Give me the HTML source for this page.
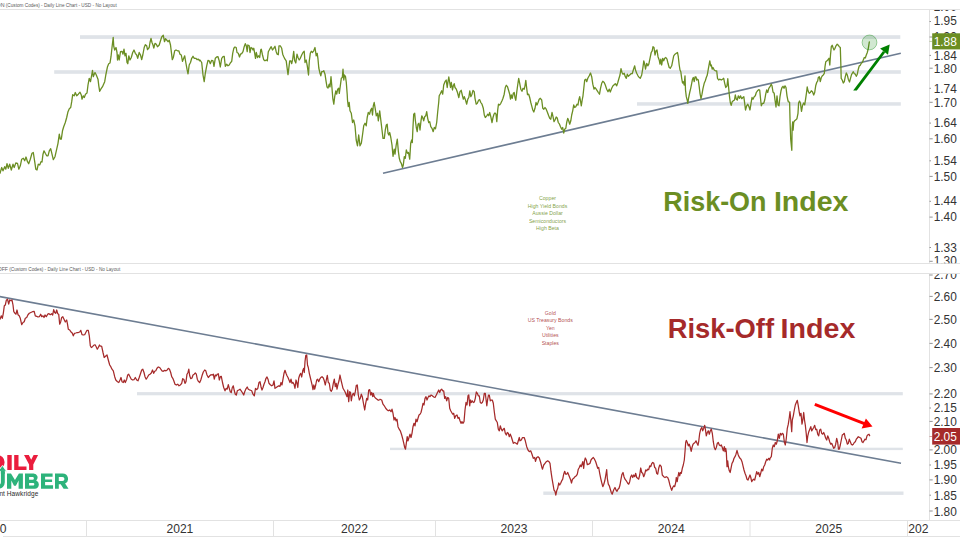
<!DOCTYPE html>
<html><head><meta charset="utf-8"><title>Risk-On / Risk-Off Index</title>
<style>html,body{margin:0;padding:0;background:#fff}body{width:960px;height:540px;overflow:hidden;position:relative;font-family:"Liberation Sans",sans-serif}</style></head>
<body>
<svg width="960" height="540" viewBox="0 0 960 540" style="position:absolute;left:0;top:0;font-family:'Liberation Sans',sans-serif">
<rect width="960" height="540" fill="#fff"/>
<defs><clipPath id="c1"><rect x="929" y="10" width="31" height="253.2"/></clipPath><clipPath id="c2"><rect x="929" y="274" width="31" height="246"/></clipPath><clipPath id="c3"><rect x="0" y="520" width="929.3" height="17"/></clipPath></defs>
<g stroke="#e2e2e2" stroke-width="1" shape-rendering="crispEdges">
<line x1="0" y1="9.5" x2="960" y2="9.5"/>
<line x1="0" y1="263.5" x2="960" y2="263.5"/>
<line x1="0" y1="273.5" x2="960" y2="273.5"/>
<line x1="0" y1="520.5" x2="960" y2="520.5"/>
<line x1="3" y1="536.5" x2="960" y2="536.5"/>
<line x1="929.5" y1="10" x2="929.5" y2="263"/>
<line x1="929.5" y1="274" x2="929.5" y2="520"/>
<line x1="86.5" y1="521" x2="86.5" y2="536"/>
<line x1="273.5" y1="521" x2="273.5" y2="536"/>
<line x1="435.5" y1="521" x2="435.5" y2="536"/>
<line x1="592.5" y1="521" x2="592.5" y2="536"/>
<line x1="907.5" y1="521" x2="907.5" y2="536"/>
</g>
<line x1="750" y1="521" x2="750" y2="536" stroke="#e2e2e2" stroke-width="1"/>
<g font-size="5.3" fill="#5a5a5a">
<text x="4.5" y="7" text-anchor="end">ON</text>
<text x="5.8" y="7" textLength="110.9" lengthAdjust="spacingAndGlyphs">(Custom Codes) - Daily Line Chart - USD - No Layout</text>
<text x="7.9" y="270.5" text-anchor="end" textLength="10.2" lengthAdjust="spacingAndGlyphs">OFF</text>
<text x="9.3" y="270.5" textLength="110.9" lengthAdjust="spacingAndGlyphs">(Custom Codes) - Daily Line Chart - USD - No Layout</text>
</g>
<rect x="80" y="35.2" width="820.3" height="3.6999999999999957" fill="#dfe3e8"/>
<rect x="54.2" y="70.2" width="846.5999999999999" height="3.5999999999999943" fill="#dfe3e8"/>
<rect x="637" y="102.2" width="263.79999999999995" height="3.5" fill="#dfe3e8"/>
<rect x="137" y="392.1" width="765.8" height="3.1999999999999886" fill="#dfe3e8"/>
<rect x="390" y="447.7" width="512.8" height="2.400000000000034" fill="#dfe3e8"/>
<rect x="543.3" y="491.5" width="360.20000000000005" height="3.3999999999999773" fill="#dfe3e8"/>
<line x1="383" y1="173.3" x2="900.8" y2="53.2" stroke="#6d7d92" stroke-width="1.6"/>
<line x1="-1" y1="296.5" x2="901" y2="463.3" stroke="#6d7d92" stroke-width="1.6"/>
<path d="M0,173.3 L1.7,167.5 L3,170.8 L4.7,166.7 L5.8,169.2 L7,163.7 L8.3,168.3 L9.7,164.2 L11.3,170 L13,164.2 L14.2,167.5 L15.8,163 L17.5,163.3 L18.8,169.2 L20.3,165.8 L21.7,159.2 L23.3,158.3 L24.7,160.8 L26,157 L27.5,161.7 L28.7,163.7 L30.3,159.2 L32,153.3 L33.3,152.5 L34.7,161.7 L35.8,169.2 L37,170 L38.3,164.2 L39.7,165 L41,161.7 L42,162 L43,154.2 L44,150.8 L45.3,153.3 L46.7,155.8 L48,155.8 L49.3,150.8 L50.7,148.7 L52,154.2 L53.3,159.7 L55,156.7 L56.7,149.2 L58,143.3 L59.3,134.2 L60.3,139.2 L61.3,139.2 L62.5,130.8 L63.7,126.7 L65.3,122.5 L66.7,117.5 L68,111.7 L69.3,108.7 L70.7,107.5 L71.7,101.7 L72.7,94.7 L74.2,95.8 L75.3,92.5 L76.7,95.8 L78.3,94.2 L80,92.2 L81.3,95 L82,99.2 L83.3,95.8 L84.3,97.5 L85.5,94.2 L87,93 L88,85 L89.2,78.3 L90.5,81.7 L91.7,75 L92.5,70.3 L93.3,76.7 L94.2,74.2 L95,72.5 L96.3,75 L98,79.2 L98.8,85.8 L99.7,91.3 L100.8,89.2 L102.5,86.7 L104.7,81.7 L105.8,75 L107.5,66.7 L108.7,63.7 L110,63 L111,56.7 L112,47.5 L113.2,37.5 L113.8,46.7 L114.7,50 L116,47.5 L117,52.5 L117.5,60 L118.3,55 L119.2,60 L120.5,51.7 L122,51.3 L123,54.2 L124,49.2 L125,55.8 L126,53.3 L127,62.5 L127.8,63.7 L128.8,55.8 L130,60 L131.3,57.5 L132.7,52.5 L134,50 L135.3,53.3 L136.7,55 L137.7,58.3 L139.2,52.5 L140.5,55 L141.7,59.7 L142.8,55 L144.2,47.5 L145.3,44.7 L146.7,45.8 L147.5,49.7 L149.2,47.5 L150,42.5 L151,38.3 L152,42.5 L153,45 L153.8,48 L155,43.3 L156.3,44.2 L157.5,46.7 L159.2,45 L160.5,40.8 L161.7,37 L163.3,35.3 L164.5,41.7 L165.5,38.7 L166.7,40 L168,41.7 L169.3,40.3 L170.5,45 L171.3,51.7 L172.3,59.7 L173.3,57.5 L174.7,50.8 L176,50 L177.5,50.8 L178.8,50.8 L180,54.2 L181.3,55 L182.5,61.3 L183.7,58.3 L184.7,55.8 L185.8,62.5 L187,69.2 L188,73.8 L189.2,65 L190.5,62.5 L191.7,58.3 L193,56.3 L194.3,58.3 L195.8,58.3 L197.2,59.7 L198.3,59.2 L199.7,60.8 L200,60 L201.7,62.5 L203,75 L204.2,81.7 L205.3,73.3 L206.7,65.8 L208,60.3 L209.2,60.8 L210.3,63.7 L211.7,60.3 L213,60.8 L214,66.3 L215.3,58.3 L216.7,57 L218,56.7 L219.2,60.8 L220.3,67 L221.7,58.3 L223,56.7 L224.2,56.3 L225.3,66.3 L226.7,64.2 L228,65.8 L229.2,65 L230.3,63 L231.7,61.3 L232.7,53.3 L233.8,48.3 L235,47 L236.2,47.5 L237,52.5 L238.3,53.3 L239.5,57 L240.5,54.2 L241.7,53.7 L243,51.7 L244.2,46.7 L245.3,43.7 L246.3,45.8 L247.2,51.7 L247.8,45 L249.2,45.8 L250,52.5 L251,47.5 L252.2,48.3 L253,50 L253.8,48.3 L254.7,53.3 L255.5,58.3 L256.3,52.5 L257.5,57.5 L258.7,55.8 L259.7,57.5 L260.7,50 L261.3,49.2 L262.5,55 L263.7,59.7 L265,60.8 L266.3,60 L267.3,60.8 L268.3,51.7 L269.7,49.2 L271.2,46.7 L272.5,50 L273.7,48.3 L275,46.3 L276.2,51.7 L277.2,54.2 L278.3,54.7 L279,45.8 L280.3,45.8 L281.7,48.3 L282.7,54.2 L283.8,56.7 L285,59.2 L286.2,60.8 L287.2,68.7 L288,74.7 L288.8,68.3 L289.7,60.8 L290.8,60.8 L291.7,63.7 L292.7,59.2 L293.7,51.3 L294.7,60.8 L295.8,63 L297,54.2 L298,57.5 L299.2,60 L300.3,58.3 L301.7,55 L303,52.5 L304.2,51.3 L305,62.5 L306.2,60 L307.3,65.8 L308.5,75 L309.3,60.8 L310.3,53.3 L311.3,51.3 L312.5,52.5 L313.7,50.8 L315,47.5 L316.2,55.8 L317.2,53.3 L318,59.2 L318.8,68 L320,73.3 L320.8,75.8 L321.7,71.7 L322.8,71.7 L323.8,70.8 L325,74.2 L326,80.8 L327,87 L328,88 L329.2,84.2 L330,87 L331,76.7 L332,88.3 L332.8,98.3 L333.8,104.2 L334.7,96.7 L335.8,90.8 L336.7,94.2 L337.7,89.2 L338.7,88.3 L339.3,93.3 L340.3,85.8 L341.3,78.3 L342.3,77.5 L343,69.2 L343.8,80 L344.5,75 L345.5,76.7 L346.3,82.5 L347.2,94.2 L347.5,100 L348.3,106.7 L349.2,102.5 L350,110.8 L351.3,113.3 L352.5,122.5 L353.7,120 L355,125.8 L356.2,140 L357.5,145.8 L358.7,135 L360,145.8 L361.3,143.3 L362.5,135 L363.7,125.8 L365,123.3 L366.2,125.8 L367.2,117.5 L368.3,112.5 L369.5,114.2 L370.7,110 L371.7,108.3 L372.5,115 L373.3,105.8 L374.2,102.5 L375.3,109.2 L376.3,115.8 L377.5,113.3 L378.3,120.8 L379.7,110.8 L380.8,120 L382,130 L383,138.3 L384.3,138.3 L385.3,130 L386.3,125 L387.2,124.2 L388,133.3 L388.8,135 L389.7,132.5 L390.8,137.5 L392,145 L393,156.3 L394.2,149.2 L395,154.2 L396.2,145 L397.3,139.2 L398.3,150.8 L399.3,158.3 L400.3,161.7 L401.3,163.3 L402.5,167.5 L403.3,165 L404.3,156.7 L405.3,158.3 L406.3,150 L407.5,153.3 L408.5,152.5 L409.7,159.2 L410.7,143.3 L411.7,140 L412.3,142.5 L413,126.7 L413.7,114.2 L414.7,113.3 L415.3,120 L416.3,127.5 L417.2,131.7 L418,124.2 L419,123.3 L420,130 L421,120.8 L421.8,115.8 L422.7,117.5 L423.7,120.8 L424.7,116.7 L425.7,115.8 L426.7,111.7 L427.7,118.3 L428.7,122.5 L429.7,121.7 L430.8,126.7 L432,128.3 L433.2,131.7 L434.3,127.5 L435.5,128.7 L436.7,122.5 L437.7,111.7 L438.7,102.5 L439.2,95.8 L440.3,93.7 L441.7,90.8 L442.7,94.2 L443.7,85 L445,81.7 L446.2,80 L447.2,87.5 L448,81.7 L448.8,77 L449.7,82.5 L450.5,87.5 L451.3,82.5 L452.5,90 L453.3,85.8 L454.2,83.7 L455,87.5 L456.3,89.2 L457.5,92.5 L458.8,97.5 L460,91.7 L461.2,90.3 L462.3,95 L463.3,99.2 L464.3,96.7 L465.5,100 L466.7,104.2 L467.8,99.2 L468.8,97.5 L469.8,90.8 L470.8,96.7 L472,94.2 L473,90.3 L474.2,91.7 L475,98.3 L476.2,104.2 L477.3,103.3 L478.7,100 L479.7,99.7 L480.8,102.5 L482,104.2 L483.3,108.3 L484.3,115 L485.3,117.5 L486.7,115.8 L487.8,114.2 L488.7,115.8 L489.7,112.5 L490.8,116.7 L492,122.5 L493,117.5 L494,114.2 L495,113 L496,114.2 L496.8,121.7 L497.7,110 L498.5,104.2 L499.7,105 L500.8,103.3 L502,100.8 L503,98.3 L504.2,94.2 L505.3,87.5 L506.3,85.3 L507.5,86.7 L508.7,90.8 L509.7,94.2 L510.5,99.2 L511.3,95 L512.2,98.3 L513.3,93.3 L514.2,92.5 L515,97.5 L515.8,100.3 L516.7,92.5 L517.7,85 L518.7,78.3 L519.7,83.3 L520.8,89.2 L522,91.3 L523,88.3 L524.2,89.2 L525,85.8 L525.8,80.3 L526.7,88.3 L527.5,94.7 L528.7,94.2 L529.7,97.5 L530.8,102.5 L531.7,105.8 L532.8,110 L533.8,112 L535,108.3 L536,102.5 L537,105 L538,102.5 L539.2,99.2 L540.3,98.3 L541.7,100 L542.8,108.3 L543.8,109.2 L545,107.5 L546.2,109.2 L547.5,112.5 L548.7,115.8 L549.7,118.3 L550.8,119.2 L552,112.5 L553,116.7 L554,121.7 L555,120 L556.2,117 L557.2,118 L558.3,122.5 L559.5,124.2 L560.5,126.7 L561.7,129.2 L562.7,127.5 L563.7,133 L564.7,129.2 L565.8,128.3 L566.7,122.5 L567.7,118.3 L568.7,120.8 L569.7,124.2 L570.8,120.8 L571.7,115 L572.7,110.8 L573.7,105 L574.7,107.5 L575.8,106.7 L577,104.2 L578,105 L578.8,100 L579.7,96.7 L580.5,100.8 L581.3,105.8 L582.2,100 L583,95.8 L583.8,88.3 L584.7,80 L585.8,79.2 L586.7,81.7 L587.8,78.3 L589.2,75.8 L590.5,73 L591.7,76.7 L592.8,84.2 L594,89.2 L595,87.5 L596.2,89.2 L597.3,90.8 L598.3,92.5 L599.5,94.2 L600.5,88.3 L601.7,83.3 L602.8,81.3 L604.2,82.5 L605.3,85 L606.7,89.2 L608,91.7 L609.2,89.2 L610.3,92 L611.7,88.3 L613,85.8 L614.2,84.7 L615.3,83.7 L616.7,85.8 L617.8,82.5 L619,78.3 L620,75 L621,68.7 L622,72.5 L623,74.2 L624.2,73.3 L625.3,76.7 L626.3,78.3 L627.3,74.2 L628.3,76.3 L629.7,75 L631,73.7 L632.2,73.7 L633.3,70 L634.7,65.8 L635.5,70 L636.7,73.3 L638,75.8 L639.2,77.5 L640.3,78.3 L641.7,75 L642.8,68.3 L643.8,60.8 L644.7,64.2 L645.5,69.2 L646.7,63.3 L647.8,65.8 L648.8,64.2 L650,58.3 L651.2,52.5 L652.2,50.8 L653,46.7 L654,47.5 L655,55 L656,50.8 L657,50 L658,56.7 L659.2,60 L660,64.2 L660.8,59.2 L661.7,65 L662.7,58.3 L663.7,60.8 L664.7,58.3 L665.8,57.5 L667,59.2 L668,63.3 L669.2,67.5 L670.3,68.3 L671.7,65.8 L672.7,60.8 L673.7,55.8 L675,54.2 L676.3,53.3 L677.5,52.5 L678.3,56.7 L679.2,65 L680,70 L680.8,71.7 L681.7,78.3 L682.5,83 L683.3,81.7 L684.2,85 L685,75.8 L685.5,90 L686.3,96.7 L687.2,100 L687.8,103.3 L688.7,97.5 L689.7,92.5 L690.7,88.3 L691.7,83.3 L692.5,79.2 L693.3,77.5 L694.2,81.7 L695,77 L696,77 L696.7,80 L697.5,79.2 L698.3,80 L699.2,86.7 L700,93.3 L701,98.7 L702,94.2 L703,88.3 L704.2,83.3 L705.3,80.8 L706.3,77.5 L707.3,75 L708.3,69.2 L709.2,64.2 L709.8,60.8 L710.7,65.8 L711.3,65 L712.2,69.2 L713,67.5 L714.2,70 L715.3,70.8 L716.7,70.8 L717.5,78.3 L718.7,80 L719.7,79.2 L721.3,80 L722.5,79.2 L723.7,78.3 L724.7,83.3 L725.8,87.5 L727,85.8 L727.8,78.7 L728.7,88.3 L729.5,96.7 L730.3,102.5 L731.2,105.3 L732.2,101.7 L733.3,100.8 L734.5,100 L735.3,95 L736.3,99.2 L737.3,100 L738.3,95.8 L739.5,98.3 L740.5,95.8 L741.7,98.7 L742.8,97.5 L743.8,96.7 L744.7,103.3 L745.5,110 L746.7,105.8 L747.8,104.2 L749,106.7 L750,110 L751,103.3 L752,97.5 L753,99.2 L754.2,96.7 L755.3,95.8 L756.3,92.5 L757.5,90.8 L758.7,89.7 L759.7,90 L760.5,98.3 L761.3,105.8 L762.5,103.3 L763.7,103.3 L764.7,100 L765.7,94.2 L766.7,90 L767.7,92.5 L768.8,88.3 L770,86.7 L771.2,84.2 L772,85.8 L773,92 L774.2,93.3 L775,100 L776,107 L777,95.8 L778,105 L779,105.8 L780,96.7 L781,90.8 L782,87.5 L783,86.3 L784,88.3 L785,85.8 L786,87.5 L787,95.8 L788,100.8 L788.3,101.7 L789.6,102.3 L790.1,122.4 L790.7,139.3 L791.8,150.3 L792.1,128.9 L792.7,121.8 L793.1,130.2 L793.7,122.4 L794.4,121.1 L795.6,120.1 L796.9,118.8 L798,113.3 L798.6,103 L799.5,101 L800.4,103 L801.5,111.4 L802.5,105.6 L803.7,103 L804.7,104.9 L805.6,99.1 L806.7,91.3 L807.2,87 L808,90.8 L809.2,93.3 L810.3,92.5 L811.3,90.8 L812.5,91.7 L813.7,95 L814.7,92.5 L815.7,85.8 L816.7,82.5 L817.7,80.8 L818.3,77.5 L819.3,76.7 L820.3,81.7 L821.3,77.5 L822.3,75.8 L823.3,75 L824.3,73.3 L825,66.7 L825.8,61.7 L827,60.8 L828,59.7 L829,58.3 L829.8,65 L830.5,55 L831.3,46.7 L832.2,45.3 L833,47.5 L834,50 L835,48.3 L836,45.8 L837.2,44.2 L838.3,45.3 L839.3,46.7 L840.3,47.5 L840.8,63.3 L841.2,78.3 L842.2,80 L843.3,83 L844.3,81.7 L845.3,76.7 L846.3,73 L847.3,75 L848.3,79.2 L849.5,82 L850.5,78.3 L851.5,74.7 L852.5,73 L853.3,71.7 L854.3,73.7 L855.3,74.2 L856.3,76.3 L857.3,74.2 L858.3,69.2 L859.3,65.8 L860.3,65.3 L861.3,63.3 L862.3,62.5 L863.3,60 L864.3,57.5 L865.3,58 L866.3,55 L867.3,52.5 L868.3,48.3 L869.3,42" fill="none" stroke="#6b8e23" stroke-width="1.3" stroke-linejoin="round" stroke-linecap="round"/>
<path d="M0,319.2 L1.3,315.8 L2.3,318.3 L3.3,313.3 L4.3,305.8 L5.3,305 L6.3,300.3 L7.5,299.2 L8.7,304.2 L9.7,300 L11,300.8 L12,300 L13,305 L13.8,311.7 L15,313.3 L16,314.2 L17,310 L18,314.7 L19.2,315.8 L20.3,318.3 L21.7,324.7 L23,322.5 L24.2,321.7 L25.3,318.3 L26.7,317.5 L28,314.7 L29.3,313.3 L30.8,312.5 L32.5,311.7 L34.2,311.3 L35.3,315.8 L36.7,316.3 L38,317 L39.3,316.7 L40.7,314.2 L41.7,316.7 L43,315.8 L44,317.5 L45,315 L46.3,316.7 L47.7,314.2 L49,313.7 L50.3,314.7 L51.7,313.7 L52.7,315 L53.7,309.7 L54.7,312.5 L55.7,313.3 L56.7,310 L57.7,313.7 L58.7,314.2 L59.7,324.2 L60.7,321.7 L61.7,317.5 L62.8,316.7 L64,319.2 L65.3,322 L66.7,320 L67.5,324.2 L68.3,329.2 L69.7,330 L70.8,331.7 L72.2,333 L73.3,335.8 L74.5,333.3 L75.8,333 L77.2,332.5 L78.3,332.5 L79.7,332 L80.8,330.3 L82,334.7 L83.3,335 L84.7,334.7 L85.8,332.5 L87,330.3 L88.3,330.3 L89.3,335.8 L90.3,345.8 L91.3,347.5 L92.5,346.7 L93.7,345.3 L95,344.7 L96.2,346.7 L97.3,349.2 L98.3,347.5 L99.5,345 L100,345.8 L101.7,346.3 L103,352.5 L104.2,357.5 L105.5,356.3 L107,355 L108.3,360 L109.7,365 L110.8,366.7 L112,369.2 L113.3,370.8 L114.7,376.7 L115.8,380 L117.5,381.7 L118.8,382.5 L120,380 L121,377.5 L122,381.7 L123.3,382.5 L124.3,380 L125.3,382.5 L126.7,379.2 L127.7,375 L128.7,374.2 L130,376.7 L131.3,379.2 L132.7,380 L134,379.7 L135.3,377.5 L136.7,380 L138,380.8 L139.2,377.5 L140.3,374.2 L141.7,370 L142.8,369.2 L144,372.5 L145,376.7 L146.2,379.2 L147.3,377.5 L148.7,375 L150,374.2 L151.3,373 L152.5,370 L153.7,373.3 L154.7,371.3 L155.8,370.8 L157,368.3 L158.3,367 L159.7,367.5 L160.8,369.2 L162,370.8 L163.3,371.3 L164.7,370.3 L166,370.8 L167.2,370 L168.3,368.3 L169.5,369.2 L170.7,372.5 L171.7,376.7 L172.8,378.3 L173.8,380.8 L175,384.2 L176.3,385 L177.7,384.2 L179,385.8 L180.3,385 L181.7,383.3 L182.7,378.7 L183.8,379.2 L185,383.3 L186,381.7 L187,374.2 L188,372.5 L188.8,369.2 L189.7,375.8 L190.8,378.7 L192,378 L193,375 L194.2,374.2 L195.3,373 L196.3,374.2 L197.3,379.2 L198.3,381.3 L199.7,382.5 L200.8,380 L202,375.8 L203.3,372 L204.7,370 L205.8,370.8 L207,375 L208.3,377.5 L209.7,375.8 L211,374.7 L212.3,375 L213.3,374.2 L214.3,379.2 L215.3,375 L216.3,375.8 L217.3,374.2 L218.3,373.7 L219.3,380 L220.3,376.7 L221.3,376.3 L222.5,382.5 L223.7,387.5 L225,390.8 L226.2,388.3 L227.2,389.2 L228.3,384.7 L229.3,388.3 L230.3,391.7 L231.3,392.5 L232.3,387.5 L233.3,385.8 L234.3,390.8 L235.3,394.2 L236.3,395 L237.3,390.8 L238.7,390 L240,389.2 L241.2,390.8 L242.3,392.5 L243.7,395 L244.7,391.7 L245.8,389.2 L247.2,387 L248.3,389.2 L249.7,390 L250,390 L251.7,390.8 L253,394.2 L254.3,395.8 L255.5,388.3 L256.7,389.7 L257.8,388.3 L259,382.5 L260,381.7 L261,386.7 L262,390 L263,387.5 L264,384.2 L265,381.7 L266,378.3 L267,377 L268,379.2 L269,383.3 L270.3,384.7 L271.7,385.8 L273,385 L274,380.8 L275,388.3 L276.2,387.5 L277.3,386.7 L278.7,385.8 L280,386.3 L281,382.5 L282,385 L283,379.2 L284,373.3 L285,370.3 L286,373.3 L287,375.8 L288,377.5 L289,380 L290,382.5 L291,379.2 L292,383.3 L293,382.5 L294,384.2 L295,388.3 L296,380 L297,383.3 L297.8,387.5 L298.7,378.3 L299.7,375 L300.7,373.3 L301.7,377 L302.7,370.8 L303.7,368.3 L304.3,372.5 L305,361.7 L305.8,355.3 L306.7,355 L307.5,365 L308.3,367.5 L309.3,373.3 L310.3,377.5 L311.3,381.7 L312.3,385.8 L313,389.7 L313.8,385 L314.7,389.2 L315.7,385 L316.7,380 L317.7,379.2 L318.7,381.7 L319.7,379.2 L320.8,377.5 L322,376.7 L323.3,378 L324.3,380.8 L325.3,385 L326.3,380 L327.3,375.3 L328.3,382.5 L329.3,383.3 L330.3,390 L331.3,391.3 L332.3,389.2 L333.3,383.3 L334.3,379.2 L335.3,386.7 L336.2,383.3 L337,389.2 L338,384.2 L339,380.8 L340,375 L341,380 L342,384.2 L343,388.3 L344,390 L345,391.7 L346,394.2 L347,396.7 L347.8,390 L348.7,401.7 L349.7,391.7 L350.5,392.5 L351.3,400.8 L352.3,395 L353.3,393.3 L354.3,395.8 L355.3,391.7 L356.3,385.3 L357.3,385 L358.3,395 L359.3,400 L360.3,398.3 L361.3,394.2 L362.3,396.7 L363.3,402.5 L364.7,410 L365.7,403.3 L366.7,398.3 L367.7,400 L368.7,390 L369.7,389.7 L370.7,395 L371.7,392.5 L372.7,396.7 L373.3,393.3 L374.3,396.7 L375.7,398.3 L377,399.2 L378.3,400.3 L379.7,399.7 L380,399.2 L381.7,400 L383,404.2 L384.3,405.8 L385.7,408.3 L387,409.7 L388.3,410.8 L389.7,410 L391,411.7 L392,409.2 L393,413.3 L394,420 L395,417.5 L396,420.8 L397,419.2 L398,426.7 L399.2,429.2 L400.3,430.8 L401.7,435 L402.8,439.2 L403.8,443.3 L404.7,447.5 L405.5,449.2 L406.3,443.3 L407.2,436.7 L408,440.8 L409,437.5 L410,434.2 L411,437.5 L412,433.3 L413,426.7 L414,423.3 L415,425.8 L416,419.2 L417,421.7 L418,418.3 L419,415 L420,414.2 L421,412.5 L422,408.3 L423,403.3 L424,405 L425,398.3 L426,396.7 L427,400 L428,397.5 L429,395.8 L430,396.7 L431,395 L432.3,395.8 L433.7,397 L435,397.5 L436.3,395 L437.5,392.5 L438.7,390 L439.7,392.5 L440.7,390 L441.7,389.2 L442.7,390.8 L443.7,390.8 L444.7,398.3 L445.7,396.7 L446.7,400.8 L447.7,397.5 L448.7,398.3 L449.7,408.3 L450.7,410.8 L451.7,412.5 L452.7,414.2 L453.7,413.3 L454.7,418.3 L455.8,415.8 L457,415 L458,418.3 L459,417.5 L460,420.8 L461,423.3 L462,421.7 L463,423.3 L464,421.7 L465,410 L466,402.5 L467,405 L468,395.8 L468.8,395 L469.7,405.8 L470.5,400 L471.3,402.5 L472.3,400.8 L473.3,402.5 L474.3,402 L475.3,398.3 L476.3,392 L477.3,393.3 L478.3,395.8 L479.3,395.8 L480.3,402.5 L481.3,403.3 L482.3,402.5 L483.3,400 L484.3,393.3 L485.3,393.3 L486.2,400.8 L486.8,405.8 L487.7,399.2 L488.5,395 L489.3,395 L490.3,400.8 L491.3,400 L492.3,400 L493.3,403.3 L494.3,411.7 L495.3,419.2 L496.3,420.8 L497.3,422.5 L498.3,429.2 L499.3,430.8 L500.3,425.8 L501.3,429.2 L502.3,430.8 L503.3,429.2 L504.3,428.3 L505.3,433.3 L506.3,435 L507.3,432.5 L508.3,433.3 L509.3,436.7 L510.3,434.2 L511.3,436.7 L512.3,440 L513.3,443.3 L514.7,442.5 L516,443.3 L517.3,444.2 L518.3,440.8 L519.3,437.5 L520,440.8 L521.3,440 L522.5,437.5 L524.2,437.5 L525.3,440.8 L526.7,446.7 L528,450 L529.3,451.7 L530.7,450.8 L532,454.2 L533.3,458.3 L534.7,457.5 L535.5,461.3 L536.7,457.5 L538,456.7 L539.3,458 L540.7,462.5 L541.7,466.7 L542.5,469.2 L543.7,465 L545,463.3 L546.3,461.7 L547.7,460.8 L549,461.7 L550,463.3 L551,471.7 L552,478.3 L553,484.2 L554,490 L555,491.3 L555.8,495 L556.7,490.8 L557.7,488.3 L558.7,483 L559.7,485 L560.7,483.3 L561.7,480.8 L562.7,479.2 L563.7,474.2 L564.7,471.3 L565.7,474.2 L566.7,474.2 L567.7,472.5 L568.7,475 L569.7,477.5 L570.7,480 L571.5,483 L572.5,479.2 L573.7,478.3 L575,476.7 L576.3,475.8 L577.3,474.2 L578.3,469.2 L579.3,467.5 L580.3,465 L581.2,466.7 L582,464.2 L582.8,461.7 L583.7,468.3 L584.5,460.8 L585.3,458 L586.3,460 L587.3,464.7 L588.7,464.2 L590,463.3 L591,460 L592,458.7 L593.3,457.5 L594.5,459.2 L595.7,461.7 L596.7,465 L597.7,468.3 L598.7,467.5 L599.7,473.3 L600.7,478.3 L601.7,482.5 L602.8,486.7 L603.8,484.2 L604.8,480.8 L605.8,475 L606.7,469.7 L607.3,478.3 L608.3,484.2 L609.3,485.8 L610.3,489.2 L611.3,492.5 L612.2,494.2 L613,491.7 L614,489.2 L615,487.5 L616,490 L617,491.3 L618,489.2 L619,488.3 L620,485 L621,479.2 L622,474.2 L623,472.5 L624,476.7 L625,479.2 L626.3,480.8 L627.7,483.3 L628.7,484.2 L629.7,481.7 L630.7,476.7 L631.7,475 L632.7,477.5 L633.7,475 L634.7,476.7 L635.7,473.3 L636.7,477.5 L637.7,478.3 L638.7,479.2 L639.7,475 L640.7,468 L641.7,472.5 L642.7,473.3 L643.7,476.7 L644.7,474.2 L645.7,470 L646.7,470.8 L647.7,469.2 L648.7,469.7 L649.7,465.8 L650.7,466.7 L651.7,463.7 L652.7,462.5 L653.7,463 L654.7,467.5 L655.7,468.3 L656.7,473.3 L657.7,474.2 L658.7,468.3 L659.7,465 L660,465 L661.3,466.7 L662.3,475 L663.7,476.7 L665,477.5 L666.3,476.7 L667.7,477.5 L668.7,480 L669.7,484.2 L670.7,487.5 L671.7,490.3 L672.7,487.5 L673.7,485.8 L674.7,486.7 L675.7,482.5 L676.3,477.5 L677.2,481.7 L678,476.7 L678.8,472.5 L679.7,475.8 L680.5,472.5 L681.3,473.3 L682.3,468.3 L683.3,465 L684.3,460 L685,451.7 L685.7,442.5 L686.3,440.3 L687.3,442.5 L688.3,445.8 L689.3,444.2 L690.3,447.5 L691.2,451.3 L692,447.5 L693,444.2 L694,443.3 L695,442.5 L696,440.8 L697,443.3 L698,445.3 L698.8,440.8 L699.7,433.3 L700.7,429.2 L701.7,427.5 L702.7,430.8 L703.7,428.3 L704.7,425.3 L705.5,430 L706.3,435.8 L707.3,432.5 L708.3,430.8 L709.3,434.2 L710.3,430.8 L711.3,429.2 L712.3,433.3 L713.3,441.7 L714.3,447.5 L715.3,449.7 L716.3,447.5 L717.3,443.3 L718.3,442.5 L719.3,445 L720.3,445.8 L721.3,445 L722.3,447.5 L723.3,450.8 L724.3,446.7 L725,451.7 L725.7,448.3 L726.3,451.7 L727,466.7 L727.7,460.8 L728.3,466.7 L729.3,470.8 L730.2,472.5 L731,468.3 L732,463.3 L733,461.7 L734,458.3 L735,456.7 L736,454.2 L737,450.3 L738,454.2 L739,456.7 L740,458.3 L741,459.2 L742,461.7 L743,465.8 L744,470 L745,473.3 L746,475.8 L747,479.2 L748,480 L749,477.5 L750,475 L750.8,477.5 L751.7,481.7 L752.7,480 L753.7,479.2 L754.7,480 L755.7,475.8 L756.7,471.7 L757.7,474.2 L758.7,472.5 L759.7,476.7 L760.7,473.3 L761.7,469.2 L762.7,470.8 L763.7,466.7 L764.7,465 L765.7,461.7 L766.7,459.2 L767.7,460 L768.7,458.3 L769.7,460 L770,458.3 L771.3,456.7 L772.3,448.3 L773.3,445 L774.3,446.7 L775.3,442.5 L776.3,444.2 L777.3,440.8 L778.3,434.2 L779.3,438.3 L780.3,433.3 L781.3,435 L782.3,433.3 L783.3,434.2 L784.3,441.7 L785.3,445 L786.3,438.3 L787.3,428.3 L788.3,424.2 L789.3,417.5 L790,411.7 L790.8,420 L791.7,431.7 L792.3,420 L793.3,415.8 L794.3,410 L795.3,405 L796.3,402.5 L797.3,400.3 L798.3,405.8 L799.3,412.5 L800,415.8 L801,413.3 L802,424.2 L802.8,420 L803.7,412.5 L804.5,420 L805.3,425 L806.2,433.3 L807,442.5 L807.8,435.8 L808.8,431.7 L809.8,429.2 L810.8,426.7 L811.7,430.8 L812.7,429.2 L813.7,427.5 L814.7,425.3 L815.7,429.7 L816.7,429.2 L817.7,434.2 L818.7,435.8 L819.7,430 L820.7,429.2 L821.7,433.3 L822.7,434.2 L823.7,432.5 L824.7,435 L825.7,438.3 L826.7,440 L827.7,435.8 L828.7,438.3 L829.7,441.7 L830.7,444.2 L831.7,443.3 L832.7,445.8 L833.7,448.3 L834.7,447.5 L835.7,444.2 L836.7,438.3 L837.7,442.5 L838.5,449.2 L839.3,449.2 L840.3,445 L841.3,440 L842.3,435 L843.3,434.2 L844.3,433.3 L845.3,438.3 L846.3,440 L847.3,444.2 L848.3,443.3 L849.3,439.2 L850.3,441.7 L851.3,444.2 L852.3,445 L853.3,444.2 L854.3,442.5 L855.3,441.7 L856.3,439.2 L857.3,438 L858.3,436.7 L859.7,437.5 L861,438.3 L862,441.7 L863,442.5 L864,440.8 L865,439.2 L866,439.7 L867,435.8 L868,434.7 L869,434.2 L869.7,435.8" fill="none" stroke="#a52a2a" stroke-width="1.25" stroke-linejoin="round" stroke-linecap="round"/>
<circle cx="869.5" cy="42.4" r="7.4" fill="#008000" fill-opacity="0.18" stroke="#008000" stroke-opacity="0.4" stroke-width="0.9"/>
<polygon points="853.2,90.4 856.8,90.4 885.2,52.6 883.0,50.9" fill="#008000"/>
<polygon points="889.7,44.4 888.0,54.8 880.1,48.6" fill="#008000"/>
<line x1="814.8" y1="404.3" x2="865" y2="423.9" stroke="#ff0000" stroke-width="3"/>
<polygon points="872.5,426.6 861.6,428.5 865.9,418.6" fill="#ff0000"/>
<g clip-path="url(#c1)">
<line x1="929.5" y1="6.4" x2="932.7" y2="6.4" stroke="#777" stroke-width="0.8"/>
<text x="933.7" y="11" font-size="11.9" fill="#333">2.00</text>
<line x1="929.5" y1="21.5" x2="931.0" y2="21.5" stroke="#777" stroke-width="0.8"/>
<text x="933.7" y="25" font-size="11.9" fill="#333">1.95</text>
<line x1="929.5" y1="37.0" x2="932.7" y2="37.0" stroke="#777" stroke-width="0.8"/>
<text x="933.7" y="41" font-size="11.9" fill="#333">1.90</text>
<line x1="929.5" y1="55.4" x2="931.0" y2="55.4" stroke="#777" stroke-width="0.8"/>
<text x="933.7" y="60" font-size="11.9" fill="#333">1.84</text>
<line x1="929.5" y1="68.2" x2="932.7" y2="68.2" stroke="#777" stroke-width="0.8"/>
<text x="933.7" y="73" font-size="11.9" fill="#333">1.80</text>
<line x1="929.5" y1="88.3" x2="931.0" y2="88.3" stroke="#777" stroke-width="0.8"/>
<text x="933.7" y="93" font-size="11.9" fill="#333">1.74</text>
<line x1="929.5" y1="102.3" x2="932.7" y2="102.3" stroke="#777" stroke-width="0.8"/>
<text x="933.7" y="107" font-size="11.9" fill="#333">1.70</text>
<line x1="929.5" y1="123.1" x2="931.0" y2="123.1" stroke="#777" stroke-width="0.8"/>
<text x="933.7" y="127" font-size="11.9" fill="#333">1.64</text>
<line x1="929.5" y1="138.8" x2="932.7" y2="138.8" stroke="#777" stroke-width="0.8"/>
<text x="933.7" y="143" font-size="11.9" fill="#333">1.60</text>
<line x1="929.5" y1="160.8" x2="931.0" y2="160.8" stroke="#777" stroke-width="0.8"/>
<text x="933.7" y="165" font-size="11.9" fill="#333">1.54</text>
<line x1="929.5" y1="176.4" x2="932.7" y2="176.4" stroke="#777" stroke-width="0.8"/>
<text x="933.7" y="181" font-size="11.9" fill="#333">1.50</text>
<line x1="929.5" y1="201.3" x2="931.0" y2="201.3" stroke="#777" stroke-width="0.8"/>
<text x="933.7" y="205" font-size="11.9" fill="#333">1.44</text>
<line x1="929.5" y1="217.1" x2="932.7" y2="217.1" stroke="#777" stroke-width="0.8"/>
<text x="933.7" y="221" font-size="11.9" fill="#333">1.40</text>
<line x1="929.5" y1="247.5" x2="931.0" y2="247.5" stroke="#777" stroke-width="0.8"/>
<text x="933.7" y="252" font-size="11.9" fill="#333">1.33</text>
<line x1="929.5" y1="261.3" x2="932.7" y2="261.3" stroke="#777" stroke-width="0.8"/>
<text x="933.7" y="265" font-size="11.9" fill="#333">1.30</text>
</g>
<g clip-path="url(#c2)">
<line x1="929.5" y1="275.0" x2="932.7" y2="275.0" stroke="#777" stroke-width="0.8"/>
<text x="933.7" y="279" font-size="11.9" fill="#333">2.70</text>
<line x1="929.5" y1="296.4" x2="932.7" y2="296.4" stroke="#777" stroke-width="0.8"/>
<text x="933.7" y="301" font-size="11.9" fill="#333">2.60</text>
<line x1="929.5" y1="319.4" x2="932.7" y2="319.4" stroke="#777" stroke-width="0.8"/>
<text x="933.7" y="324" font-size="11.9" fill="#333">2.50</text>
<line x1="929.5" y1="343.4" x2="932.7" y2="343.4" stroke="#777" stroke-width="0.8"/>
<text x="933.7" y="348" font-size="11.9" fill="#333">2.40</text>
<line x1="929.5" y1="367.6" x2="932.7" y2="367.6" stroke="#777" stroke-width="0.8"/>
<text x="933.7" y="372" font-size="11.9" fill="#333">2.30</text>
<line x1="929.5" y1="393.9" x2="932.7" y2="393.9" stroke="#777" stroke-width="0.8"/>
<text x="933.7" y="398" font-size="11.9" fill="#333">2.20</text>
<line x1="929.5" y1="408.0" x2="931.0" y2="408.0" stroke="#777" stroke-width="0.8"/>
<text x="933.7" y="412" font-size="11.9" fill="#333">2.15</text>
<line x1="929.5" y1="421.4" x2="932.7" y2="421.4" stroke="#777" stroke-width="0.8"/>
<text x="933.7" y="426" font-size="11.9" fill="#333">2.10</text>
<line x1="929.5" y1="449.9" x2="932.7" y2="449.9" stroke="#777" stroke-width="0.8"/>
<text x="933.7" y="454" font-size="11.9" fill="#333">2.00</text>
<line x1="929.5" y1="465.0" x2="931.0" y2="465.0" stroke="#777" stroke-width="0.8"/>
<text x="933.7" y="469" font-size="11.9" fill="#333">1.95</text>
<line x1="929.5" y1="479.9" x2="932.7" y2="479.9" stroke="#777" stroke-width="0.8"/>
<text x="933.7" y="484" font-size="11.9" fill="#333">1.90</text>
<line x1="929.5" y1="495.2" x2="931.0" y2="495.2" stroke="#777" stroke-width="0.8"/>
<text x="933.7" y="500" font-size="11.9" fill="#333">1.85</text>
<line x1="929.5" y1="511.0" x2="932.7" y2="511.0" stroke="#777" stroke-width="0.8"/>
<text x="933.7" y="516" font-size="11.9" fill="#333">1.80</text>
</g>
<rect x="932.2" y="33.3" width="28" height="16.1" fill="#6b8e23"/>
<line x1="929.5" y1="41.4" x2="932.2" y2="41.4" stroke="#6b8e23" stroke-opacity="0.5" stroke-width="0.9"/>
<text x="933.7" y="46" font-size="11.9" fill="#fff">1.88</text>
<rect x="932.2" y="428" width="28" height="16.6" fill="#a52a2a"/>
<line x1="929.5" y1="436.5" x2="932.2" y2="436.5" stroke="#a52a2a" stroke-opacity="0.5" stroke-width="0.9"/>
<text x="933.7" y="441" font-size="11.9" fill="#fff">2.05</text>
<g clip-path="url(#c3)" font-size="12.1" fill="#333">
<text x="6.5" y="533" text-anchor="end">2020</text>
<text x="179.9" y="533" text-anchor="middle">2021</text>
<text x="354.5" y="533" text-anchor="middle">2022</text>
<text x="514" y="533" text-anchor="middle">2023</text>
<text x="671.3" y="533" text-anchor="middle">2024</text>
<text x="828.8" y="533" text-anchor="middle">2025</text>
<text x="908.3" y="533" text-anchor="start">202</text>
</g>
<g font-size="27.3" font-weight="bold" fill="#6b8e23">
<text x="663.3" y="210.9" textLength="103.2" lengthAdjust="spacingAndGlyphs">Risk-On</text>
<text x="773.9" y="210.9" textLength="74.6" lengthAdjust="spacingAndGlyphs">Index</text>
</g>
<g font-size="27.3" font-weight="bold" fill="#a52a2a">
<text x="667.7" y="338.4" textLength="106.4" lengthAdjust="spacingAndGlyphs">Risk-Off</text>
<text x="780.6" y="338.4" textLength="74.8" lengthAdjust="spacingAndGlyphs">Index</text>
</g>
<g font-size="5.2" fill="#6b8e23" fill-opacity="0.85" text-anchor="middle">
<text x="547.5" y="200">Copper</text>
<text x="547.5" y="208">High Yield Bonds</text>
<text x="547.5" y="215">Aussie Dollar</text>
<text x="547.5" y="223">Semiconductors</text>
<text x="547.5" y="230">High Beta</text>
</g>
<g font-size="5.2" fill="#a52a2a" fill-opacity="0.85" text-anchor="middle">
<text x="550.3" y="315">Gold</text>
<text x="550.3" y="322">US Treasury Bonds</text>
<text x="550.3" y="330">Yen</text>
<text x="550.3" y="337">Utilities</text>
<text x="550.3" y="345">Staples</text>
</g>
<defs><clipPath id="cl"><rect x="0" y="450" width="10" height="17.5"/></clipPath></defs>
<circle cx="-2.7" cy="462.2" r="4.6" fill="none" stroke="#ea1d3d" stroke-width="5.4" clip-path="url(#cl)"/>
<path fill="#ea1d3d" d="M7.3,454.9h4.4v15h-4.4z M14.2,454.9h4.3v11.5h8v3.5h-12.3z M24,454.9h4.8l2.4,4.9l2.4,-4.9h4.5l-4.8,9.6v5.4h-4.2v-5.4z"/>
<path fill="#2db37b" fill-rule="evenodd" d="M0.9,470.7H4.8V482.3A6.5,6.5 0 0 1 -1.7,488.8H-2V484.9H-1.7A2.6,2.6 0 0 0 0.9,482.3z M7,488.8V473.4h4L14.95,480L18.9,473.4h4V488.8h-4.3V480.6L15.9,485.7h-1.9L11.3,480.6V488.8z M25,473.4H33.6A4,4 0 0 1 36.2,480.4A4.4,4.4 0 0 1 34.8,488.8H25z M29.1,477v2.8h3.4a1.4,1.4 0 0 0 0,-2.8z M29.1,482.9v2.5h4a1.25,1.25 0 0 0 0,-2.5z M41,473.4h11.6v3.4h-7.5v2.6h7v2.7h-7v3.1h7.95v3.6h-12.05z M55,473.4h7.6a5.4,5.4 0 0 1 2.5,10.2l3.4,5.2h-4.9l-2.9,-4.6h-1.9v4.6h-3.8z M58.8,477v4.1h3.6a2.05,2.05 0 0 0 0,-4.1z"/>
<polygon points="-1.8,471.4 2.4,465.4 6.6,471.4" fill="#2db37b" stroke="#fff" stroke-width="0.8"/>
<rect x="0.9" y="470.8" width="3.9" height="3" fill="#2db37b"/>
<text x="4.9" y="495.7" font-size="6.5" fill="#2a2a2a" text-anchor="end">Grant</text>
<text x="6.7" y="495.7" font-size="6.5" fill="#2a2a2a" textLength="31.7" lengthAdjust="spacing">Hawkridge</text>
</svg>
</body></html>
